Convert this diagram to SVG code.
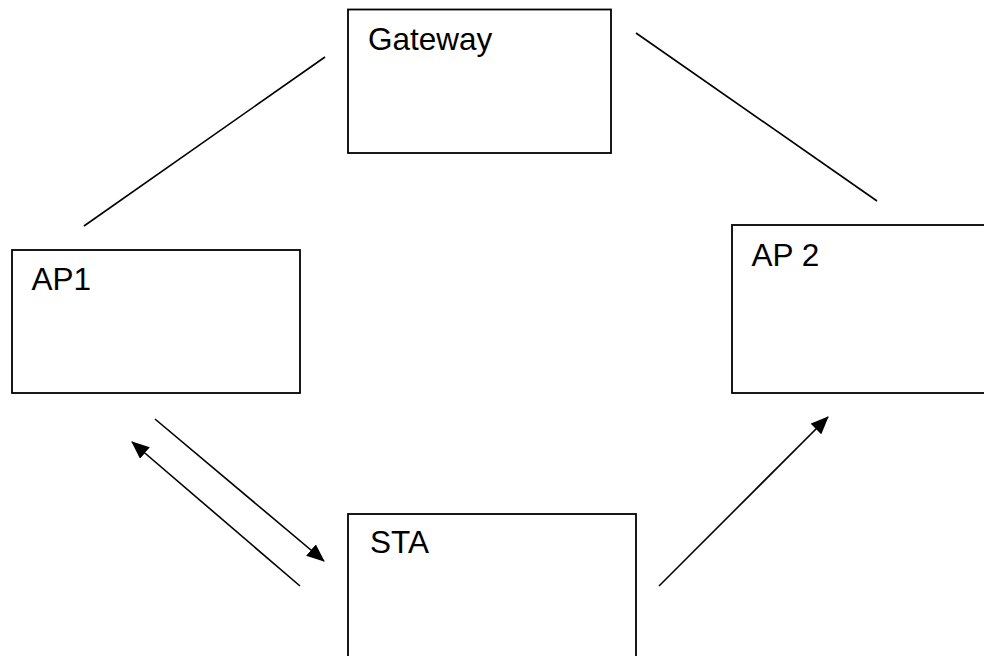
<svg xmlns="http://www.w3.org/2000/svg" width="984" height="656" viewBox="0 0 984 656">
  <defs>
    <marker id="arrow" viewBox="0 0 18 15" refX="17" refY="7.5" markerWidth="18" markerHeight="15" markerUnits="userSpaceOnUse" orient="auto">
      <path d="M0,0 L18,7.5 L0,15 Z" fill="#000"/>
    </marker>
  </defs>
  <style>
    .box { fill: #fff; stroke: #000; stroke-width: 1.8; }
    .label { font-family: "Liberation Sans", Arial, sans-serif; font-size: 31.5px; fill: #000; }
    .link { stroke: #000; stroke-width: 1.6; fill: none; }
    .arrow { marker-end: url(#arrow); }
  </style>
  <rect width="984" height="656" fill="#fff"/>

  <g id="connectors">
    <line class="link" x1="84" y1="226" x2="325" y2="57"/>
    <line class="link" x1="636" y1="33" x2="877" y2="201"/>
    <line class="link arrow" x1="155" y1="419" x2="324" y2="561"/>
    <line class="link arrow" x1="300" y1="586" x2="132" y2="442"/>
    <line class="link arrow" x1="659" y1="586" x2="828" y2="417"/>
  </g>

  <g id="gateway">
    <rect class="box" x="348" y="9.5" width="263" height="143.5"/>
    <text class="label" x="368" y="50">Gateway</text>
  </g>

  <g id="ap1">
    <rect class="box" x="12" y="250" width="288" height="143"/>
    <text class="label" x="31.5" y="290">AP1</text>
  </g>

  <g id="ap2">
    <rect class="box" x="732" y="225" width="260" height="168"/>
    <text class="label" x="751.5" y="266">AP 2</text>
  </g>

  <g id="sta">
    <rect class="box" x="348" y="514" width="288" height="150"/>
    <text class="label" x="370" y="553">STA</text>
  </g>
</svg>
